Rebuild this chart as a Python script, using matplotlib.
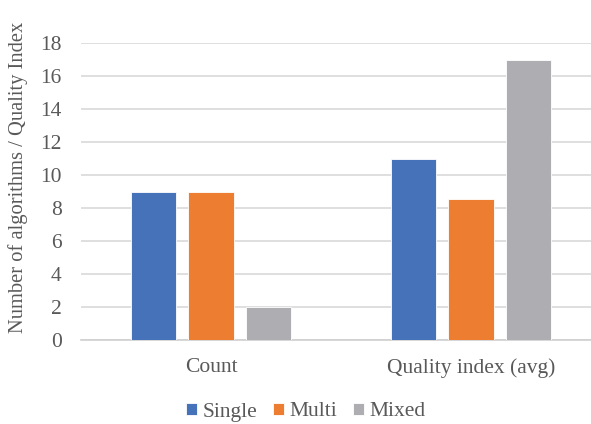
import matplotlib.pyplot as plt
import numpy as np

categories = ["Count", "Quality index (avg)"]
series_names = ["Single", "Multi", "Mixed"]
single = [9, 11]
multi = [9, 8.55]
mixed = [2, 17]
y_ticks = [0, 2, 4, 6, 8, 10, 12, 14, 16, 18]

colors = ["#4672BA", "#ED7D31", "#AEAEB2"]
text_color = "#595959"
fs = 15.5

plt.rcParams["font.family"] = ["Liberation Serif", "DejaVu Serif"]

fig = plt.figure(figsize=(5.91, 4.24), dpi=100)
W, H = 591, 424
left, right, bottom, top = 81, 601, 340, 43
ax = fig.add_axes([left / W, (H - bottom) / H, (right - left) / W, (bottom - top) / H])

x = np.arange(len(categories))
width = 0.175
step = 0.221
for i, (vals, name, c) in enumerate(zip([single, multi, mixed], series_names, colors)):
    ax.bar(x + (i - 1) * step, vals, width, color=c, label=name,
           edgecolor="white", linewidth=0.6, zorder=3)

ax.set_xlim(-0.5, 1.5)
ax.set_ylim(0, 18)
ax.set_yticks(y_ticks)
ax.set_xticks(x)
ax.set_xticklabels(categories)
ax.grid(axis="y", color="#D9D9D9", linewidth=1.2, zorder=0)
ax.tick_params(axis="y", length=0, pad=14, labelsize=fs, labelcolor=text_color)
ax.tick_params(axis="x", length=0, pad=13, labelsize=fs, labelcolor=text_color)
for s in ["top", "right", "left"]:
    ax.spines[s].set_visible(False)
ax.spines["bottom"].set_color("#D0D0D0")
ax.spines["bottom"].set_linewidth(1.2)

ax.set_ylabel("Number of algorithms / Quality Index", fontsize=14.8, color=text_color)
ax.yaxis.set_label_coords(-53 / (right - left), 1 - (177 - top) / (bottom - top))

handles, labels = ax.get_legend_handles_labels()
fig.legend(handles, labels, loc="center", bbox_to_anchor=(306 / W, (H - 412) / H),
           ncol=3, frameon=False, fontsize=fs, labelcolor=text_color,
           handlelength=0.5, handleheight=0.5, handletextpad=0.25, columnspacing=0.75)

fig.savefig("out.png", dpi=100)
